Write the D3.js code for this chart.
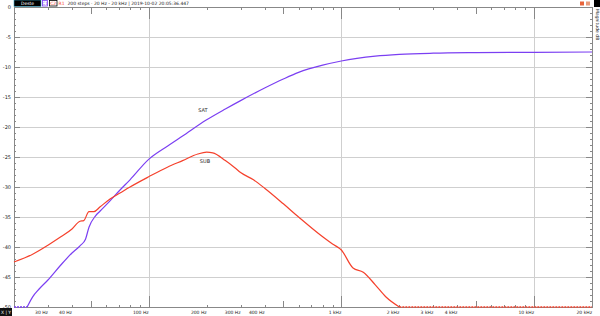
<!DOCTYPE html>
<html>
<head>
<meta charset="utf-8">
<script src="https://cdn.jsdelivr.net/npm/d3@7"></script>
<style>
  html, body { margin: 0; padding: 0; background: #fff; }
  svg { display: block; font-family: "DejaVu Sans", sans-serif; }
  text { fill: #222; }
</style>
</head>
<body>
<svg id="chart" width="600" height="316"></svg>
<script>
'use strict';

// SAT curve (purple)
const satFreq = [20, 23.4, 25, 27, 30, 35, 40, 44, 47, 49, 53, 56, 63, 71, 80, 100, 125, 150, 200, 250,
  300, 400, 500, 600, 800, 1000, 1500, 2000, 3000, 5000, 10000, 20000];
const satDb = [-50, -50, -48.3, -47, -45.5, -43, -41, -39.8, -38.7, -36.7, -34.8, -34, -32.3, -30.5, -28.8,
  -25.4, -23.2, -21.5, -18.8, -17.0, -15.6, -13.5, -12.0, -10.9, -9.7, -9.0, -8.2, -7.9, -7.7, -7.6, -7.55, -7.5];

// SUB curve (red)
const subFreq = [20, 25, 30, 35, 40, 44, 46, 49, 52, 56, 63, 71, 80, 100, 125, 150, 180, 200, 215, 250,
  280, 300, 350, 400, 500, 600, 800, 900, 1000, 1150, 1300, 1500, 1700, 2000, 5000, 20000];
const subDb = [-42.5, -41.2, -39.7, -38.3, -37, -35.7, -35.6, -34.1, -34.1, -33.3, -32, -31, -30, -28.3,
  -26.7, -25.6, -24.5, -24.2, -24.3, -25.6, -26.8, -27.6, -28.8, -30.2, -32.8, -35, -38.3, -39.5, -40.5,
  -43.5, -44.2, -46.3, -48.3, -50, -50, -50];

const yTicks = [0, -5, -10, -15, -20, -25, -30, -35, -40, -45, -50];
const xLabels = [30, 40, 100, 200, 300, 400, 1000, 2000, 3000, 4000, 10000, 20000];
const xGrid = [100, 1000, 10000];

const svg = d3.select('#chart');

const margin = { top: 7, right: 8, bottom: 9, left: 14 };
const width = 600;
const height = 316;

const x = d3.scaleLog().domain([20, 20000]).range([margin.left, width - margin.right]);
const y = d3.scaleLinear().domain([0, -50]).range([margin.top, height - margin.bottom]);

const fmtHz = f => f < 1000 ? f + ' Hz' : (f / 1000) + ' kHz';

// all 1..9 x decade frequencies
const minorFreqs = [];
for (let dec = 10; dec <= 10000; dec *= 10) {
  for (let k = 1; k <= 9; k++) {
    const f = k * dec;
    if (f >= 20 && f <= 20000)
      minorFreqs.push(f);
  }
}
minorFreqs.push(20000);

// horizontal grid
svg.append('g')
  .selectAll('line')
  .data(yTicks.slice(1, -1))
  .enter().append('line')
  .attr('x1', x(20))
  .attr('x2', x(20000))
  .attr('y1', d => y(d) + 0.5)
  .attr('y2', d => y(d) + 0.5)
  .attr('stroke', '#cfcfcf')
  .attr('stroke-width', 1);

// vertical grid
svg.append('g')
  .selectAll('line')
  .data(xGrid)
  .enter().append('line')
  .attr('x1', d => Math.round(x(d)) + 0.5)
  .attr('x2', d => Math.round(x(d)) + 0.5)
  .attr('y1', y(0))
  .attr('y2', y(-50))
  .attr('stroke', '#cfcfcf')
  .attr('stroke-width', 1);

// frame lines
const frame = svg.append('g').attr('stroke', '#888').attr('stroke-width', 1);
frame.append('line').attr('x1', x(20) + 0.5).attr('x2', x(20) + 0.5).attr('y1', y(0)).attr('y2', y(-50));
frame.append('line').attr('x1', x(20000) + 0.5).attr('x2', x(20000) + 0.5).attr('y1', y(0)).attr('y2', y(-50));
frame.append('line').attr('x1', x(20)).attr('x2', x(20000)).attr('y1', y(0) + 0.5).attr('y2', y(0) + 0.5);
frame.append('line').attr('x1', x(20)).attr('x2', x(20000)).attr('y1', y(-50) + 0.5).attr('y2', y(-50) + 0.5);

// y minor ticks (every dB), both sides
const dbTicks = d3.range(0, -51, -1);
const tickLen = d => d % 5 === 0 ? 6 : 2;
svg.append('g')
  .attr('stroke', '#888')
  .selectAll('line')
  .data(dbTicks)
  .enter().append('line')
  .attr('x1', x(20))
  .attr('x2', d => x(20) + tickLen(d))
  .attr('y1', d => Math.round(y(d)) + 0.5)
  .attr('y2', d => Math.round(y(d)) + 0.5);

svg.append('g')
  .attr('stroke', '#888')
  .selectAll('line')
  .data(dbTicks)
  .enter().append('line')
  .attr('x1', x(20000))
  .attr('x2', d => x(20000) - tickLen(d))
  .attr('y1', d => Math.round(y(d)) + 0.5)
  .attr('y2', d => Math.round(y(d)) + 0.5);

// x ticks top and bottom
const fLen = f => xGrid.includes(f) ? 12 : ([50, 500, 5000].includes(f) ? 7 : 3);
svg.append('g')
  .attr('stroke', '#888')
  .selectAll('line')
  .data(minorFreqs)
  .enter().append('line')
  .attr('x1', d => Math.round(x(d)) + 0.5)
  .attr('x2', d => Math.round(x(d)) + 0.5)
  .attr('y1', y(0))
  .attr('y2', d => y(0) + fLen(d));

svg.append('g')
  .attr('stroke', '#888')
  .selectAll('line')
  .data(minorFreqs)
  .enter().append('line')
  .attr('x1', d => Math.round(x(d)) + 0.5)
  .attr('x2', d => Math.round(x(d)) + 0.5)
  .attr('y1', y(-50) + 1)
  .attr('y2', d => y(-50) + 1 - fLen(d));

// y labels
svg.append('g')
  .selectAll('text')
  .data(yTicks)
  .enter().append('text')
  .attr('x', 11)
  .attr('y', d => y(d) + 2)
  .attr('text-anchor', 'end')
  .style('font-size', '5px')
  .text(d => d);

// x labels
svg.append('g')
  .selectAll('text')
  .data(xLabels)
  .enter().append('text')
  .attr('x', d => x(d))
  .attr('y', 313.5)
  .attr('text-anchor', 'end')
  .style('font-size', '4.5px')
  .text(fmtHz);

// curves
const line = d3.line()
  .curve(d3.curveMonotoneX)
  .x(d => x(d.f))
  .y(d => y(Math.max(d.db, -50)));

function curve(freqs, dbs, color, label, lx, ly) {
  const pts = freqs.map((f, i) => ({ f: f, db: dbs[i] }));
  const firstUp = pts.findIndex(p => p.db > -50);
  let lastUp = -1;
  pts.forEach((p, i) => { if (p.db > -50) lastUp = i; });

  const live = pts.slice(Math.max(firstUp - 1, 0), Math.min(lastUp + 2, pts.length));
  svg.append('path')
    .datum(live)
    .attr('fill', 'none')
    .attr('stroke', color)
    .attr('stroke-width', 1.2)
    .attr('d', line);

  // clipped floor segments drawn dashed
  const floorSegs = [];
  if (firstUp > 0)
    floorSegs.push(pts.slice(0, firstUp));
  if (lastUp < pts.length - 1)
    floorSegs.push(pts.slice(lastUp + 1));

  for (const seg of floorSegs) {
    if (seg.length < 2)
      continue;
    svg.append('path')
      .datum(seg)
      .attr('fill', 'none')
      .attr('stroke', color)
      .attr('stroke-width', 1.4)
      .attr('stroke-dasharray', '2,1')
      .attr('d', line);
  }

  svg.append('text')
    .attr('x', lx)
    .attr('y', ly)
    .attr('text-anchor', 'middle')
    .style('font-size', '5px')
    .text(label);
}

curve(satFreq, satDb, '#7b3ff2', 'SAT', 203, 112);
curve(subFreq, subDb, '#f5412c', 'SUB', 205, 163);

// toolbar
const bar = svg.append('g').style('font-size', '4.5px');
bar.append('rect').attr('x', 14).attr('y', 0).attr('width', 27).attr('height', 6.5)
  .attr('fill', '#000').attr('stroke', '#3aa7c9').attr('stroke-width', 0.6);
bar.append('text').attr('x', 27.5).attr('y', 5).attr('text-anchor', 'middle')
  .style('fill', '#fff').text('Deste');
bar.append('rect').attr('x', 42.5).attr('y', 0.5).attr('width', 5).attr('height', 5.5)
  .attr('fill', '#fff').attr('stroke', '#7b3ff2').attr('stroke-width', 0.8);
bar.append('text').attr('x', 45).attr('y', 5).attr('text-anchor', 'middle')
  .style('fill', '#7b3ff2').text('C1');
bar.append('rect').attr('x', 49.5).attr('y', 0.5).attr('width', 7.5).attr('height', 5.5)
  .attr('fill', '#fff').attr('stroke', '#000').attr('stroke-width', 0.8);
bar.append('text').attr('x', 53.2).attr('y', 5).attr('text-anchor', 'middle')
  .style('fill', '#f5412c').text('C2');
bar.append('text').attr('x', 61.5).attr('y', 5).attr('text-anchor', 'middle')
  .style('fill', '#f5412c').text('R1');
bar.append('text').attr('x', 67.5).attr('y', 5)
  .text('200 steps · 20 Hz - 20 kHz | 2019-10-02 20:05:36.447');

// top right corner
svg.append('rect').attr('x', 580).attr('y', 1.5).attr('width', 4).attr('height', 4).attr('fill', '#e8643a');
svg.append('rect').attr('x', 586).attr('y', 1.5).attr('width', 4).attr('height', 4).attr('fill', '#e89a7a');
svg.append('rect').attr('x', 594).attr('y', 0).attr('width', 6).attr('height', 7).attr('fill', '#000');
svg.append('text')
  .attr('transform', 'translate(595.5,9) rotate(90)')
  .style('font-size', '4.5px')
  .text('Magnitude dB');

// bottom left corner
svg.append('rect').attr('x', 0).attr('y', 308).attr('width', 12).attr('height', 8).attr('fill', '#111');
svg.append('text').attr('x', 6).attr('y', 314).attr('text-anchor', 'middle')
  .style('font-size', '4.5px').style('fill', '#fff').text('X | Y');
</script>
</body>
</html>
